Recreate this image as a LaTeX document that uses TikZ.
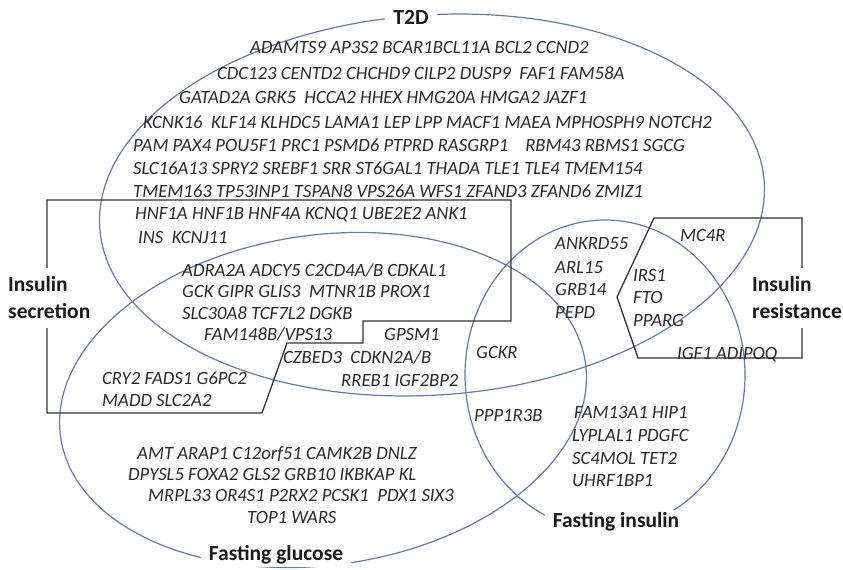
\documentclass[tikz,border=0pt]{standalone}
\usepackage{fontspec}
\setmainfont{Carlito}
\definecolor{setblue}{RGB}{96,125,165}
\definecolor{boxgray}{RGB}{50,50,50}
\definecolor{genegray}{RGB}{42,42,42}
\definecolor{labelgray}{RGB}{25,25,25}
\begin{document}
\begin{tikzpicture}[x=1pt,y=-1pt,
  setring/.style={draw=setblue,line width=1.2pt},
  groupbox/.style={draw=boxgray,line width=1.3pt,line join=miter},
  gene/.style={anchor=base west,inner sep=0pt,text=genegray,font=\fontsize{18.7}{22}\selectfont\itshape},
  setname/.style={fill=white,text=labelgray,font=\fontsize{21.5}{27}\selectfont\bfseries,inner xsep=8pt,inner ysep=3pt},
  sidename/.style={setname,align=left,anchor=west,inner xsep=3pt,inner ysep=9pt}]
\useasboundingbox (0,0) rectangle (843,570);

% trait sets
\draw[setring,rotate around={4:(432,205)}] (432,205) ellipse [x radius=333pt,y radius=190pt];
\draw[setring,rotate around={8:(323,400)}] (323,400) ellipse [x radius=265pt,y radius=165pt];
\draw[setring] (605,375) ellipse [x radius=140pt,y radius=155pt];

% insulin secretion and insulin resistance groups
\draw[groupbox] (47,200) -- (511,200) -- (511,321) -- (363,321) -- (363,343) -- (287,343) -- (262,413) -- (47,413) -- cycle;
\draw[groupbox] (654,218) -- (802,218) -- (802,358) -- (638,358) -- (617,297) -- cycle;

% set names
\node[setname] (t2d) at (411,17) {T2D};
\node[sidename] (insec) at (5,298) {Insulin\\secretion};
\node[sidename] (inres) at (749,298) {Insulin\\resistance};
\node[setname] (fglu) at (276,555) {Fasting glucose};
\node[setname] (fins) at (616,522) {Fasting insulin};

% T2D only
\node[gene] (t1) at (250,53) {ADAMTS9 AP3S2 BCAR1BCL11A BCL2 CCND2};
\node[gene] (t2) at (217,79) {CDC123 CENTD2 CHCHD9 CILP2 DUSP9\ \ FAF1 FAM58A};
\node[gene] (t3) at (179,103) {GATAD2A GRK5\ \ HCCA2 HHEX HMG20A HMGA2 JAZF1};
\node[gene] (t4) at (143,128) {KCNK16\ \ KLF14 KLHDC5 LAMA1 LEP LPP MACF1 MAEA MPHOSPH9 NOTCH2};
\node[gene] (t5) at (133,151) {PAM PAX4 POU5F1 PRC1 PSMD6 PTPRD RASGRP1\ \ \ \ RBM43 RBMS1 SGCG};
\node[gene] (t6) at (133,174) {SLC16A13 SPRY2 SREBF1 SRR ST6GAL1 THADA TLE1 TLE4 TMEM154};
\node[gene] (t7) at (133,197) {TMEM163 TP53INP1 TSPAN8 VPS26A WFS1 ZFAND3 ZFAND6 ZMIZ1};

% T2D and insulin secretion
\node[gene] (s1) at (135,219) {HNF1A HNF1B HNF4A KCNQ1 UBE2E2 ANK1};
\node[gene] (s2) at (138,243) {INS\ \ KCNJ11};

% T2D, insulin secretion and fasting glucose
\node[gene] (g1) at (182,276) {ADRA2A ADCY5 C2CD4A/B CDKAL1};
\node[gene] (g2) at (182,297) {GCK GIPR GLIS3\ \ MTNR1B PROX1};
\node[gene] (g3) at (182,319) {SLC30A8 TCF7L2 DGKB};
\node[gene] (g4) at (204,340) {FAM148B/VPS13};

% T2D and fasting glucose
\node[gene] (g5) at (384,340) {GPSM1};
\node[gene] (g6) at (283,363) {CZBED3\ \ CDKN2A/B};
\node[gene] (g7) at (341,386) {RREB1 IGF2BP2};

% insulin secretion and fasting glucose
\node[gene] (c1) at (102,384) {CRY2 FADS1 G6PC2};
\node[gene] (c2) at (102,406) {MADD SLC2A2};

% fasting glucose and fasting insulin
\node[gene] (k1) at (476,358) {GCKR};
\node[gene] (k2) at (474,421) {PPP1R3B};

% T2D and fasting insulin
\node[gene] (a1) at (555,249) {ANKRD55};
\node[gene] (a2) at (555,273) {ARL15};
\node[gene] (a3) at (555,295) {GRB14};
\node[gene] (a4) at (555,318) {PEPD};

% insulin resistance
\node[gene] (r1) at (680,241) {MC4R};
\node[gene] (r2) at (633,281) {IRS1};
\node[gene] (r3) at (633,303) {FTO};
\node[gene] (r4) at (633,326) {PPARG};
\node[gene] (r5) at (677,359) {IGF1 ADIPOQ};

% fasting insulin only
\node[gene] (f1) at (574,418) {FAM13A1 HIP1};
\node[gene] (f2) at (572,441) {LYPLAL1 PDGFC};
\node[gene] (f3) at (572,464) {SC4MOL TET2};
\node[gene] (f4) at (572,486) {UHRF1BP1};

% fasting glucose only
\node[gene] (u1) at (137,459) {AMT ARAP1 C12orf51 CAMK2B DNLZ};
\node[gene] (u2) at (128,480) {DPYSL5 FOXA2 GLS2 GRB10 IKBKAP KL};
\node[gene] (u3) at (148,501) {MRPL33 OR4S1 P2RX2 PCSK1\ \ PDX1 SIX3};
\node[gene] (u4) at (247,523) {TOP1 WARS};
\end{tikzpicture}
\end{document}
